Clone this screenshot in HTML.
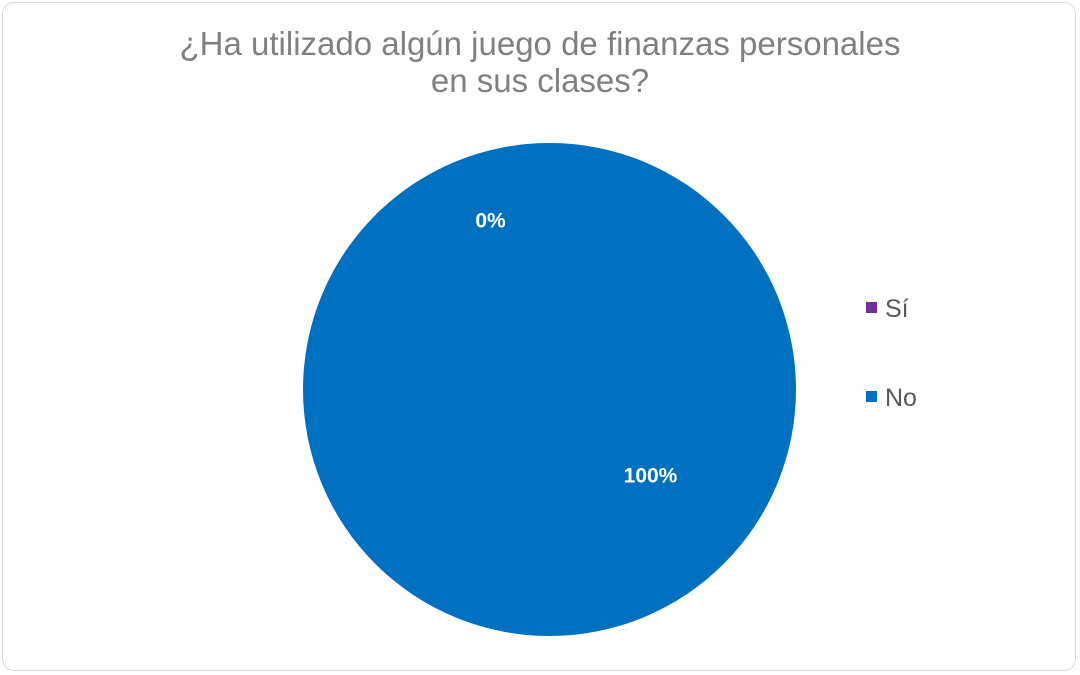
<!DOCTYPE html>
<html><head><meta charset="utf-8"><style>
body{margin:0;background:#fff;font-family:"Liberation Sans",sans-serif;}
#wrap{position:relative;width:1080px;height:675px;}
#frame{position:absolute;left:2px;top:2px;width:1074px;height:669px;border:1.5px solid #d9d9d9;border-radius:12px;box-sizing:border-box;}
</style></head><body>
<div id="wrap">
<div id="frame"></div>
<svg id="chart" width="1080" height="675" style="position:absolute;left:0;top:0">
<text x="540" y="55" text-anchor="middle" font-size="33" fill="#808080" font-family="Liberation Sans, sans-serif">¿Ha utilizado algún juego de finanzas personales</text>
<text x="540" y="92" text-anchor="middle" font-size="33" fill="#808080" font-family="Liberation Sans, sans-serif">en sus clases?</text>
<g id="slices"></g>
<g id="labels"></g>
<g id="legend"></g>
</svg>
</div>
<script>
const categories=["Sí","No"];
const values=[0,100];
const colors=["#7030a0","#0070c0"];
const labelText=["0%","100%"];
const cx=549.5,cy=389.5,r=246.5;
const NS="http://www.w3.org/2000/svg";
const total=values.reduce((a,b)=>a+b,0);
const sl=document.getElementById('slices'),lb=document.getElementById('labels'),lg=document.getElementById('legend');
let a0=0;
values.forEach((v,i)=>{
  const frac=total?v/total:0;
  const a1=a0+frac*2*Math.PI;
  let el;
  if(frac>=0.9999){el=document.createElementNS(NS,'circle');el.setAttribute('cx',cx);el.setAttribute('cy',cy);el.setAttribute('r',r);}
  else{
    el=document.createElementNS(NS,'path');
    const x0=cx+r*Math.sin(a0),y0=cy-r*Math.cos(a0),x1=cx+r*Math.sin(a1),y1=cy-r*Math.cos(a1);
    el.setAttribute('d',`M${cx},${cy}L${x0},${y0}A${r},${r} 0 ${frac>0.5?1:0} 1 ${x1},${y1}Z`);
  }
  el.setAttribute('fill',colors[i]);
  
  
  sl.appendChild(el);
  // label positions
  let lx,ly;
  if(frac<0.0001){lx=cx-59;ly=cy-169;}
  else{const m=(a0+a1)/2+(frac>=0.9999?Math.PI*0.6:0);const rr=r*0.55;lx=cx+rr*Math.sin(m);ly=cy-rr*Math.cos(m);}
  if(frac>=0.9999){lx=cx+101;ly=cy+86;}
  const t=document.createElementNS(NS,'text');
  t.setAttribute('x',lx);t.setAttribute('y',ly+7);t.setAttribute('text-anchor','middle');
  t.setAttribute('font-size','21');t.setAttribute('font-weight','bold');t.setAttribute('fill','#fff');
  t.setAttribute('font-family','Liberation Sans, sans-serif');
  t.textContent=labelText[i];
  
  
  lb.appendChild(t);
  // legend
  const ly2=308+i*89;
  const sq=document.createElementNS(NS,'rect');
  sq.setAttribute('x',866);sq.setAttribute('y',ly2-6);sq.setAttribute('width',11);sq.setAttribute('height',11);sq.setAttribute('fill',colors[i]);
  
  
  lg.appendChild(sq);
  const lt=document.createElementNS(NS,'text');
  lt.setAttribute('x',885);lt.setAttribute('y',ly2+9);lt.setAttribute('font-size','25');lt.setAttribute('fill','#595959');
  lt.setAttribute('font-family','Liberation Sans, sans-serif');
  lt.textContent=categories[i];
  
  
  lg.appendChild(lt);
  a0=a1;
});
</script>
</body></html>
